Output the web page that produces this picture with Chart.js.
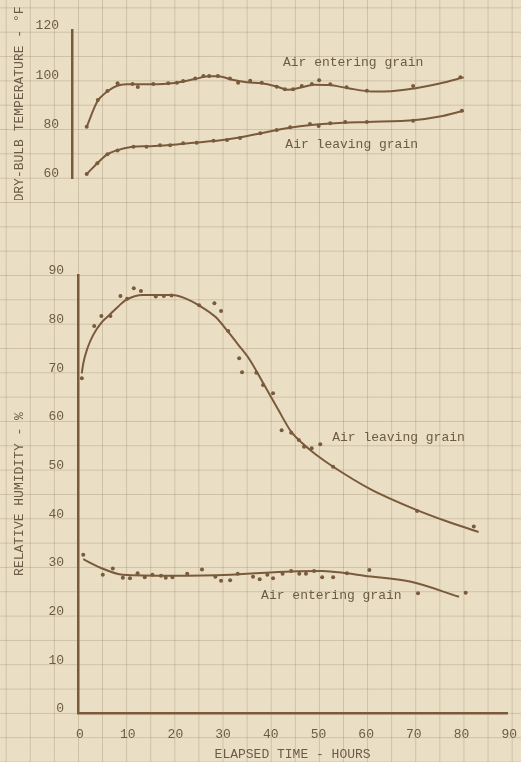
<!DOCTYPE html>
<html>
<head>
<meta charset="utf-8">
<script src="https://cdn.jsdelivr.net/npm/chart.js@4.4.1/dist/chart.umd.min.js"></script>
<style>
  html, body { margin: 0; padding: 0; }
  body {
    width: 521px; height: 762px; position: relative; overflow: hidden;
    background-color: #eadfc5;
    background-image:
      linear-gradient(to right, rgba(150,130,98,0.33) 1px, transparent 1px),
      linear-gradient(to bottom, rgba(150,130,98,0.33) 1px, transparent 1px);
    background-size: 24.1px 24.33px;
    background-position: 5.7px 7.4px;
  }
  canvas { position: absolute; left: 0; }
  #tempChart { top: 0; }
  #rhChart { top: 240px; }
</style>
</head>
<body>
<canvas id="tempChart" width="521" height="200"></canvas>
<canvas id="rhChart" width="521" height="522"></canvas>
<script>
// elapsed time (hours) and readings, taken off the plot
let tempInHours = [1.8, 4.1, 6.1, 8.2, 11.3, 12.4, 15.6, 18.7, 20.5, 21.8, 24.3, 26, 27.2, 29, 31.5, 33.2, 35.7, 38.1, 41.2, 42.9, 44.6, 46.4, 48.5, 50, 52.3, 55.7, 59.9, 69.5, 79.3];
let tempInValues = [80.8, 91.6, 95.3, 98.4, 98.1, 96.9, 98.1, 98.4, 98.6, 99.3, 100.3, 101.4, 101.4, 101.4, 100.3, 98.6, 99.4, 98.6, 97, 96, 96, 97.3, 98.1, 99.6, 98, 96.8, 95.4, 97.3, 100.8];
let tempOutHours = [1.8, 4, 6.1, 8.2, 11.5, 14.2, 17, 19.1, 21.8, 24.6, 28.1, 30.9, 33.6, 37.8, 41.2, 44, 48.1, 49.9, 52.3, 55.4, 59.9, 69.5, 79.6];
let tempOutValues = [61.6, 66, 69.6, 71.1, 72.7, 72.7, 73.3, 73.3, 74.1, 74.3, 75.1, 75.4, 76.2, 78.1, 79.5, 80.6, 81.9, 81.1, 82.2, 82.7, 82.7, 83.2, 87.3];

// faired curves drawn through the temperature points
let tempInCurveHours = [1.8, 4, 6, 8, 10, 15, 20, 24, 27, 29, 32, 35, 38, 41, 43.5, 46, 49, 52, 56, 61, 65, 70, 75, 80];
let tempInCurveValues = [80.8, 91, 95, 97.3, 98, 98, 98.5, 100, 101.2, 101.2, 99.8, 98.8, 98.4, 97.2, 95.8, 96.6, 97.8, 97.7, 96.4, 95.1, 95.2, 96.4, 98.3, 100.8];
let tempOutCurveHours = [1.8, 4, 6, 8, 11, 15, 19, 24, 30, 34, 38, 42, 46, 50, 55, 60, 70, 75, 80];
let tempOutCurveValues = [61.6, 66, 69.5, 71.2, 72.6, 72.9, 73.4, 74.3, 75.4, 76.6, 78.1, 79.8, 81, 81.8, 82.4, 82.7, 83.5, 84.9, 87.3];

let rhOutHours = [0.8, 3.4, 4.9, 6.8, 8.9, 10.3, 11.7, 13.2, 16.3, 18, 19.6, 25.4, 28.6, 30, 31.5, 33.8, 34.4, 37.4, 38.8, 40.9, 42.7, 44.7, 46.3, 47.4, 49, 50.8, 53.5, 71.1, 83];
let rhOutValues = [68.8, 79.5, 81.6, 81.6, 85.7, 85.1, 87.3, 86.7, 85.6, 85.7, 85.8, 83.8, 84.2, 82.6, 78.5, 72.9, 70, 69.9, 67.4, 65.7, 58.1, 57.6, 56.1, 54.7, 54.4, 55.2, 50.6, 41.5, 38.3];
let rhInHours = [1.1, 5.2, 7.3, 9.4, 10.9, 12.5, 14, 15.6, 17.4, 18.4, 19.8, 22.9, 26, 28.8, 30, 31.9, 33.5, 36.7, 38.1, 39.7, 40.9, 42.9, 44.7, 46.4, 47.8, 49.5, 51.2, 53.5, 56.4, 61.1, 71.3, 81.3];
let rhInValues = [32.5, 28.4, 29.7, 27.8, 27.7, 28.7, 27.9, 28.4, 28.2, 27.8, 27.9, 28.6, 29.5, 28, 27.2, 27.3, 28.6, 28, 27.5, 28.4, 27.7, 28.6, 29.2, 28.6, 28.6, 29.2, 27.9, 27.9, 28.7, 29.4, 24.6, 24.7];

// faired humidity curves
let rhOutCurveHours = [0.8, 1.1, 2, 3.2, 5, 6.6, 8.5, 10.1, 13.6, 19.8, 22.5, 25.3, 28.8, 31.5, 33.5, 36, 39, 42, 44.7, 47.4, 50, 53.5, 61.3, 70.3, 77, 84];
let rhOutCurveValues = [69.8, 71.8, 75, 77.7, 80.3, 81.8, 83.6, 84.9, 85.9, 85.9, 85.2, 83.8, 81.4, 78.3, 75.8, 72.6, 67.5, 62.3, 57.8, 55.1, 53, 50.6, 46, 42, 39.5, 37.2];
let rhInCurveHours = [1.1, 4.6, 9.4, 19.8, 31.9, 44.7, 51.2, 56.4, 60, 69.6, 79.9];
let rhInCurveValues = [31.6, 29.9, 28.4, 28.2, 28.4, 29.1, 29.2, 28.7, 28.2, 27, 23.9];

let tempTicks = [60, 80, 100, 120];
let rhTicks = [0, 10, 20, 30, 40, 50, 60, 70, 80, 90];
let hourTicks = [0, 10, 20, 30, 40, 50, 60, 70, 80, 90];

const ink = "#7a5a3b";
const textInk = "#6c5b47";
const mono = "'Liberation Mono', 'DejaVu Sans Mono', monospace";

function pairs(xs, ys) {
    return xs.map((x, i) => ({ x: x, y: ys[i] }));
}

function curve(xs, ys) {
    return {
        data: pairs(xs, ys),
        showLine: true,
        borderColor: ink,
        borderWidth: 2,
        pointRadius: 0,
        cubicInterpolationMode: "monotone"
    };
}

function dots(xs, ys) {
    return {
        data: pairs(xs, ys),
        showLine: false,
        pointRadius: 2,
        pointBackgroundColor: ink,
        pointBorderWidth: 0
    };
}

// series captions, placed in data units
function captionPlugin(items) {
    return {
        id: "captions",
        afterDatasetsDraw(chart) {
            let ctx = chart.ctx;
            ctx.save();
            ctx.font = "13px " + mono;
            ctx.fillStyle = textInk;
            ctx.textBaseline = "middle";
            items.forEach(it => {
                ctx.fillText(it.text, chart.scales.x.getPixelForValue(it.x), chart.scales.y.getPixelForValue(it.y));
            });
            ctx.restore();
        }
    };
}

new Chart(document.getElementById("tempChart"), {
    type: "scatter",
    data: {
        datasets: [
            curve(tempInCurveHours, tempInCurveValues),
            curve(tempOutCurveHours, tempOutCurveValues),
            dots(tempInHours, tempInValues),
            dots(tempOutHours, tempOutValues)
        ]
    },
    options: {
        responsive: false,
        animation: false,
        devicePixelRatio: 1,
        layout: { padding: { top: 30, right: 9, bottom: 22, left: 0 } },
        plugins: { legend: { display: false }, tooltip: { enabled: false } },
        scales: {
            x: { type: "linear", min: -1.25, max: 90, display: false },
            y: {
                min: 60, max: 120,
                afterFit: s => { s.width = 72; },
                afterBuildTicks: s => { s.ticks = tempTicks.map(v => ({ value: v })); },
                grid: { display: false },
                border: { display: true, color: ink, width: 2.5 },
                ticks: { color: textInk, font: { family: mono, size: 13 }, padding: 5, labelOffset: -4 },
                title: {
                    display: true,
                    text: "DRY-BULB TEMPERATURE - °F",
                    color: textInk,
                    font: { family: mono, size: 13 },
                    padding: { top: 12, bottom: 0 }
                }
            }
        }
    },
    plugins: [captionPlugin([
        { text: "Air entering grain", x: 42.5, y: 106.6 },
        { text: "Air leaving grain", x: 43, y: 73.4 }
    ])]
});

new Chart(document.getElementById("rhChart"), {
    type: "scatter",
    data: {
        datasets: [
            curve(rhOutCurveHours, rhOutCurveValues),
            curve(rhInCurveHours, rhInCurveValues),
            dots(rhOutHours, rhOutValues),
            dots(rhInHours, rhInValues)
        ]
    },
    options: {
        responsive: false,
        animation: false,
        devicePixelRatio: 1,
        layout: { padding: { top: 35, right: 9, bottom: 0, left: 0 } },
        plugins: { legend: { display: false }, tooltip: { enabled: false } },
        scales: {
            x: {
                type: "linear", min: 0, max: 90,
                afterFit: s => { s.height = 49; },
                afterBuildTicks: s => { s.ticks = hourTicks.map(v => ({ value: v })); },
                grid: { display: false },
                border: { display: true, color: ink, width: 2.5 },
                ticks: { color: textInk, font: { family: mono, size: 13 }, padding: 6, labelOffset: 2, maxRotation: 0, autoSkip: false },
                title: {
                    display: true,
                    text: "ELAPSED TIME - HOURS",
                    color: textInk,
                    font: { family: mono, size: 13 },
                    padding: { top: 0, bottom: 0 }
                }
            },
            y: {
                min: 0, max: 90,
                afterFit: s => { s.width = 78; },
                afterBuildTicks: s => { s.ticks = rhTicks.map(v => ({ value: v })); },
                grid: { display: false },
                border: { display: true, color: ink, width: 2.5 },
                ticks: { color: textInk, font: { family: mono, size: 13 }, padding: 6, labelOffset: -4 },
                title: {
                    display: true,
                    text: "RELATIVE HUMIDITY - %",
                    color: textInk,
                    font: { family: mono, size: 13 },
                    padding: { top: 12, bottom: 0 }
                }
            }
        }
    },
    plugins: [captionPlugin([
        { text: "Air leaving grain", x: 53.3, y: 56.5 },
        { text: "Air entering grain", x: 38.4, y: 24.2 }
    ])]
});
</script>
</body>
</html>
